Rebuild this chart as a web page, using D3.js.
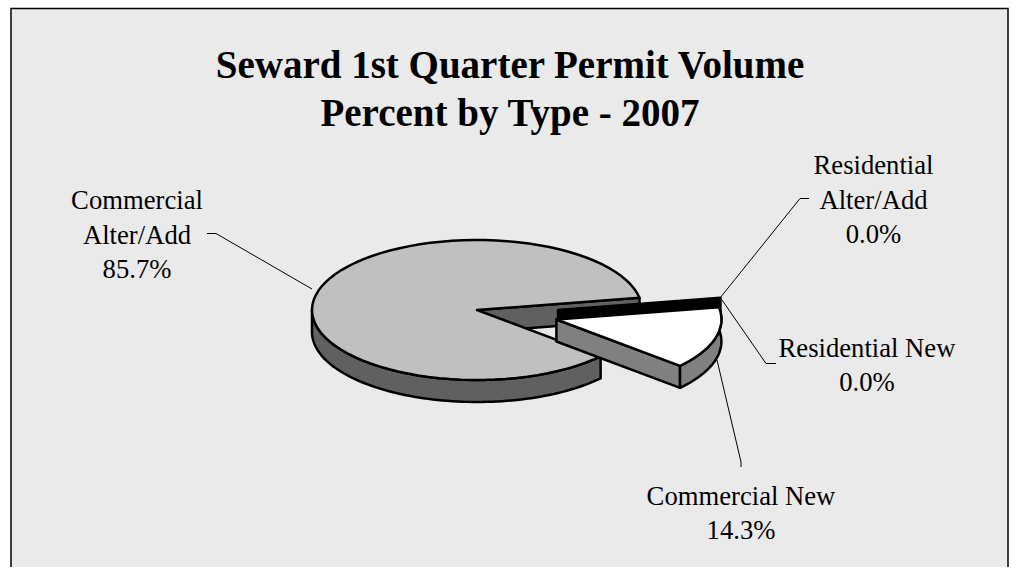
<!DOCTYPE html>
<html>
<head>
<meta charset="utf-8">
<script src="https://cdn.jsdelivr.net/npm/d3@7"></script>
<style>
    body { margin: 0; background: #fff; }
    svg { display: block; }
    text { font-family: "Liberation Serif", serif; fill: #000; }
</style>
</head>
<body>
<div id="chart"></div>
<script>
// Chart values, in pie order (clockwise from the cut on the right)
var categories = ["Commercial New", "Commercial Alter/Add", "Residential New", "Residential Alter/Add"];
var percents = [14.3, 85.7, 0.0, 0.0];
var titleLines = ["Seward 1st Quarter Permit Volume", "Percent by Type - 2007"];
var labelLines = [
    ["Commercial New", "14.3%"],
    ["Commercial", "Alter/Add", "85.7%"],
    ["Residential New", "0.0%"],
    ["Residential", "Alter/Add", "0.0%"]
];

// Establish svg size and the tilted pie's box
var svgWidth = 1015;
var svgHeight = 567;
var depth = 22;
var startAngle = 80 * Math.PI / 180;

var xScale = d3.scaleLinear().domain([-1, 1]).range([312, 642]);
var yScale = d3.scaleLinear().domain([-1, 1]).range([240, 380]);

var svg = d3.select("#chart")
    .append("svg")
    .attr("width", svgWidth)
    .attr("height", svgHeight);

// Panel, open at the bottom of the window
svg.append("rect")
    .attr("x", 11)
    .attr("y", 8.5)
    .attr("width", 997)
    .attr("height", 570)
    .attr("fill", "#eaeaea")
    .attr("stroke", "#000")
    .attr("stroke-width", 1.5);

// Title
svg.append("g").selectAll("text")
    .data(titleLines)
    .enter()
    .append("text")
    .attr("x", 510)
    .attr("y", (d, i) => 78 + i * 48)
    .attr("text-anchor", "middle")
    .attr("font-size", "39px")
    .attr("font-weight", "bold")
    .text(d => d);

// Angles come from d3.pie
var arcs = d3.pie().sort(null).startAngle(startAngle).endAngle(startAngle + 2 * Math.PI)(percents);
var newArc = arcs[0];
var alterArc = arcs[1];
var zeroArc = arcs[3];

var line = d3.line();

function rim(a, dx, dy) {
    return [xScale(Math.sin(a)) + dx, yScale(-Math.cos(a)) + dy];
}

function apex(dx, dy) {
    return [xScale(0) + dx, yScale(0) + dy];
}

function rimPoints(a0, a1, dx, dy) {
    var n = 80;
    return d3.range(n + 1).map(i => rim(a0 + (a1 - a0) * i / n, dx, dy));
}

function drawShape(points, fill) {
    svg.append("path")
        .attr("d", line(points) + "Z")
        .attr("fill", fill)
        .attr("stroke", "#000")
        .attr("stroke-width", 2.5)
        .attr("stroke-linejoin", "round");
}

// Leader lines go under the pie
var leaders = [
    [[717, 360], [741, 462], [741, 467]],
    [[312, 289], [216, 233.5], [207, 233.5]],
    [[722, 300], [766, 363.5], [776, 363.5]],
    [[720, 298], [800, 198.5], [809, 198.5]]
];

svg.append("g").selectAll("path")
    .data(leaders)
    .enter()
    .append("path")
    .attr("d", d => line(d))
    .attr("fill", "none")
    .attr("stroke", "#000")
    .attr("stroke-width", 1);

// Main slice: cut wall, outer side, top face
var a0 = alterArc.startAngle;
var a1 = alterArc.endAngle;
drawShape([apex(0, 0), rim(a1, 0, 0), rim(a1, 0, depth), apex(0, depth)], "#606060");
drawShape(rimPoints(a0, Math.PI * 1.5, 0, 0).concat(rimPoints(Math.PI * 1.5, a0, 0, depth)), "#606060");
drawShape([apex(0, 0)].concat(rimPoints(a0, a1, 0, 0)), "#c0c0c0");

// Zero slices show only as a black wall behind the pulled-out slice
var zeroDx = 81;
drawShape([apex(zeroDx, 0), rim(zeroArc.endAngle, zeroDx, 0), rim(zeroArc.endAngle, zeroDx, depth), apex(zeroDx, depth)], "#000");

// Pulled-out slice: moved half a radius along its middle angle
var mid = (newArc.startAngle + newArc.endAngle) / 2;
var newDx = (xScale(Math.sin(mid)) - xScale(0)) / 2;
var newDy = (yScale(-Math.cos(mid)) - yScale(0)) / 2;
var n0 = newArc.startAngle;
var n1 = newArc.endAngle;
drawShape([apex(newDx, newDy), rim(n1, newDx, newDy), rim(n1, newDx, newDy + depth), apex(newDx, newDy + depth)], "#808080");
drawShape(rimPoints(n0, n1, newDx, newDy).concat(rimPoints(n1, n0, newDx, newDy + depth)), "#808080");
drawShape([apex(newDx, newDy)].concat(rimPoints(n0, n1, newDx, newDy)), "#fff");

// Slice labels
var labelSpots = [
    { x: 741, y: 504.5, step: 34 },
    { x: 137, y: 209, step: 34.5 },
    { x: 867, y: 357, step: 34 },
    { x: 873.5, y: 174, step: 34.5 }
];

labelLines.forEach(function(lines, i) {
    svg.append("g")
        .attr("class", "label")
        .attr("data-category", categories[i])
        .selectAll("text")
        .data(lines)
        .enter()
        .append("text")
        .attr("x", labelSpots[i].x)
        .attr("y", (d, j) => labelSpots[i].y + j * labelSpots[i].step)
        .attr("text-anchor", "middle")
        .attr("font-size", "26.67px")
        .text(d => d);
});
</script>
</body>
</html>
